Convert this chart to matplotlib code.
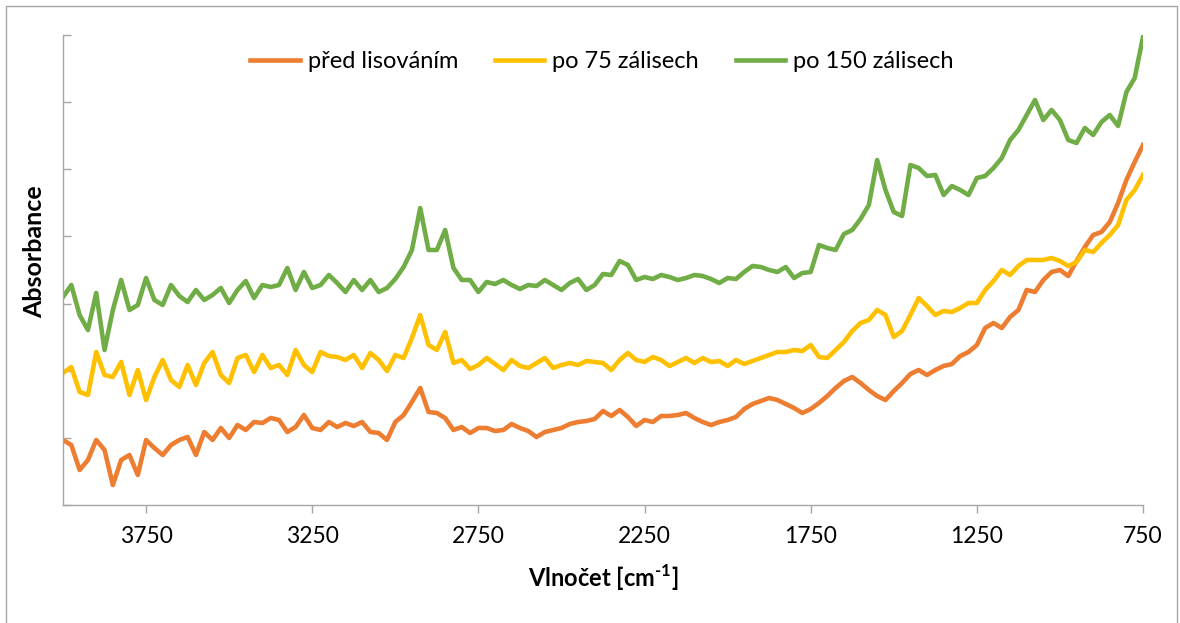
import numpy as np
import matplotlib
matplotlib.use("Agg")
import matplotlib.pyplot as plt
from matplotlib.patches import Rectangle

plt.rcParams['font.family'] = ['Lato', 'DejaVu Sans']
plt.rcParams['mathtext.fontset'] = 'custom'
plt.rcParams['mathtext.rm'] = 'Lato'
plt.rcParams['mathtext.bf'] = 'Lato:bold'

# wavenumber grid of the spectra [cm-1], 4000 -> 750 every 25
vlnocet = np.arange(4000, 749, -25)

# absorbance (mAU, offset spectra)
pred_lisovanim = [
    65, 60, 35, 45, 65, 55, 20, 45, 50, 30, 65, 57, 50, 60, 65, 68, 50, 73, 65, 77,
    67, 80, 75, 83, 82, 87, 85, 73, 78, 90, 77, 75, 83, 78, 82, 79, 83, 73, 72, 65,
    83, 90, 103, 117, 93, 92, 87, 75, 78, 72, 77, 77, 74, 75, 81, 77, 74, 68, 73, 75,
    77, 81, 83, 84, 86, 94, 89, 95, 88, 79, 85, 83, 89, 89, 90, 92, 87, 83, 80, 83,
    85, 88, 96, 101, 104, 107, 105, 101, 97, 92, 96, 102, 109, 117, 124, 128, 122, 115, 109, 105,
    114, 122, 131, 135, 130, 135, 139, 141, 149, 153, 160, 177, 182, 177, 188, 195, 215, 213, 225, 233,
    235, 229, 244, 258, 270, 273, 283, 302, 325, 343, 360,
]
po_75 = [
    132, 138, 113, 110, 153, 130, 128, 143, 110, 135, 105, 128, 145, 125, 118, 140, 120, 142, 153, 130,
    122, 147, 150, 133, 150, 137, 140, 130, 155, 140, 133, 153, 149, 148, 145, 150, 137, 152, 145, 134,
    150, 147, 167, 190, 160, 155, 173, 142, 145, 136, 140, 147, 141, 135, 145, 139, 137, 142, 147, 137,
    140, 142, 140, 144, 143, 142, 135, 145, 152, 145, 143, 148, 145, 139, 143, 147, 142, 147, 143, 144,
    139, 145, 141, 144, 147, 150, 153, 153, 155, 154, 160, 148, 147, 155, 163, 174, 182, 185, 195, 190,
    168, 174, 190, 207, 199, 190, 194, 193, 197, 202, 202, 215, 224, 235, 230, 239, 245, 245, 245, 247,
    244, 239, 243, 255, 253, 262, 270, 280, 305, 315, 330,
]
po_150 = [
    208, 220, 190, 175, 212, 155, 195, 225, 195, 200, 227, 205, 200, 220, 209, 203, 215, 205, 210, 217,
    202, 215, 224, 207, 220, 218, 220, 237, 215, 233, 217, 220, 230, 222, 213, 225, 215, 225, 213, 217,
    226, 238, 255, 297, 255, 255, 275, 237, 225, 225, 213, 223, 221, 225, 220, 216, 220, 219, 225, 220,
    215, 222, 226, 215, 220, 231, 230, 244, 240, 225, 228, 226, 230, 228, 225, 227, 230, 229, 226, 222,
    227, 226, 233, 239, 238, 235, 233, 238, 227, 232, 233, 260, 257, 255, 271, 275, 286, 300, 345, 315,
    293, 289, 340, 337, 329, 330, 310, 319, 315, 310, 327, 329, 337, 347, 365, 375, 390, 405, 385, 395,
    385, 365, 362, 377, 370, 383, 390, 379, 413, 427, 468,
]

series_names = ['před lisováním', 'po 75 zálisech', 'po 150 zálisech']
series_colors = ['#ED7D31', '#FFC000', '#70AD47']
x_ticks = [3750, 3250, 2750, 2250, 1750, 1250, 750]

W, H = 1180, 623
fig = plt.figure(figsize=(W / 100, H / 100), dpi=100)
ax = fig.add_axes([63 / W, 1 - 505 / H, 1080 / W, 470 / H])

for vals, name, col in zip([pred_lisovanim, po_75, po_150], series_names, series_colors):
    ax.plot(vlnocet, vals, color=col, lw=3.3, label=name, solid_joinstyle='round')

ax.set_xlim(4000, 750)
ax.set_ylim(0, 470)
ax.set_xticks(x_ticks)
ax.set_yticks(np.linspace(0, 470, 8))
ax.set_yticklabels([])

axis_gray = '#a6a6a6'
for s in ['top', 'right']:
    ax.spines[s].set_visible(False)
for s in ['left', 'bottom']:
    ax.spines[s].set_color(axis_gray)
    ax.spines[s].set_linewidth(1.0)
ax.tick_params(axis='x', direction='out', length=6, width=1, color=axis_gray,
               labelsize=16.5, pad=9, labelcolor='#000000')
ax.tick_params(axis='y', direction='in', length=6, width=1, color=axis_gray)

fig.text(603 / W, 1 - 578 / H, 'Vlnočet [cm$^{\\mathbf{\u2010}\\mathbf{1}}$]', ha='center', va='center',
         fontsize=17, fontweight='bold')
fig.text(35 / W, 1 - 252 / H, 'Absorbance', ha='center', va='center', rotation=90,
         fontsize=18, fontweight='bold')

fig.legend(loc='center', bbox_to_anchor=(602 / W, 1 - 62 / H), ncol=3, frameon=False,
           fontsize=17, handlelength=2.1, handletextpad=0.34, columnspacing=1.55)

fig.patches.append(Rectangle((6 / W, -0.02), 1171 / W, 1.02 - 6 / H, transform=fig.transFigure,
                             fill=False, edgecolor='#a6a6a6', lw=1.0))

fig.savefig('out.png', dpi=100)
